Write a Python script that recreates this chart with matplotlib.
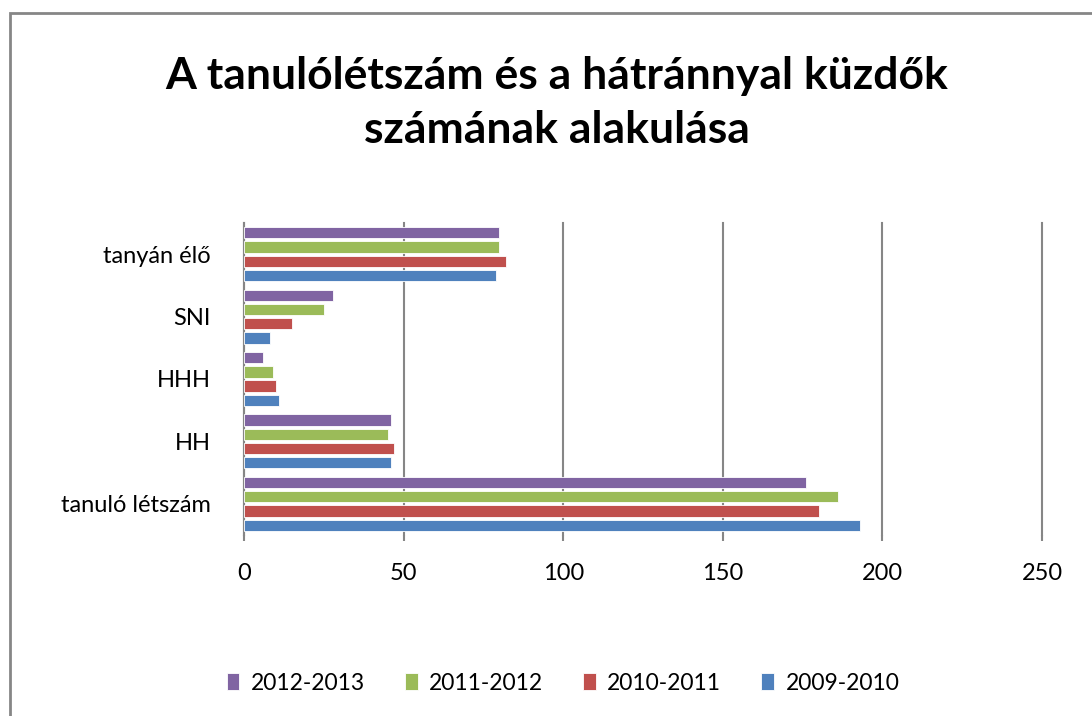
import matplotlib
matplotlib.use("Agg")
import matplotlib.pyplot as plt
import matplotlib.patches as mpatches
import numpy as np

plt.rcParams['font.family'] = ['Lato', 'DejaVu Sans']

# data
categories = ['tanuló létszám', 'HH', 'HHH', 'SNI', 'tanyán élő']
years = ['2009-2010', '2010-2011', '2011-2012', '2012-2013']
values_2009 = [193, 46, 11, 8, 79]
values_2010 = [180, 47, 10, 15, 82]
values_2011 = [186, 45, 9, 25, 80]
values_2012 = [176, 46, 6, 28, 80]
colors = ['#4f81bd', '#c0504d', '#9bbb59', '#8064a2']

fig = plt.figure(figsize=(10.92, 7.16), dpi=100)
ax = fig.add_axes([244 / 1092, 1 - 535 / 716, 798 / 1092, 312 / 716])

y = np.arange(len(categories))
pitch = 0.228
series = [values_2009, values_2010, values_2011, values_2012]
bars = []
for i, (vals, col, lab) in enumerate(zip(series, colors, years)):
    b = ax.barh(y + (i - 1.5) * pitch, vals, height=0.18, color=col,
                edgecolor='white', linewidth=0.6, label=lab, zorder=3)
    bars.append(b)

ax.set_xlim(0, 250)
ax.set_ylim(-0.5, 4.5)
ax.set_xticks([0, 50, 100, 150, 200, 250])
ax.set_yticks(y)
ax.set_yticklabels(categories)
ax.grid(axis='x', color='#868686', linewidth=1.5, zorder=0)
for gl in ax.get_xgridlines():
    gl.set_clip_on(False)
ax.tick_params(axis='x', length=4, width=1.5, color='#868686', labelsize=17, pad=16)
ax.tick_params(axis='y', length=0, labelsize=17, pad=24)
for s in ['top', 'right', 'bottom']:
    ax.spines[s].set_visible(False)
ax.spines['left'].set_color('#868686')
ax.spines['left'].set_linewidth(1.5)

fig.text(557 / 1092, 1 - 103 / 716, 'A tanulólétszám és a hátránnyal küzdők\nszámának alakulása',
         ha='center', va='center', fontsize=32, fontweight='bold', linespacing=1.4)

handles = [bars[3], bars[2], bars[1], bars[0]]
leg = fig.legend(handles, [years[3], years[2], years[1], years[0]],
                 loc='center', bbox_to_anchor=(563 / 1092, 1 - 683 / 716), ncol=4,
                 frameon=False, fontsize=16.5, handlelength=0.55, handleheight=0.75,
                 handletextpad=0.5, columnspacing=1.75)

# chart area border (cut off at right and bottom in the reference)
fig.add_artist(mpatches.Rectangle((9.5 / 1092, -0.1), 1.2, 1 - 13 / 716 + 0.1,
                                  transform=fig.transFigure, fill=False,
                                  edgecolor='#868686', linewidth=2))

fig.savefig('out.png', dpi=100)
